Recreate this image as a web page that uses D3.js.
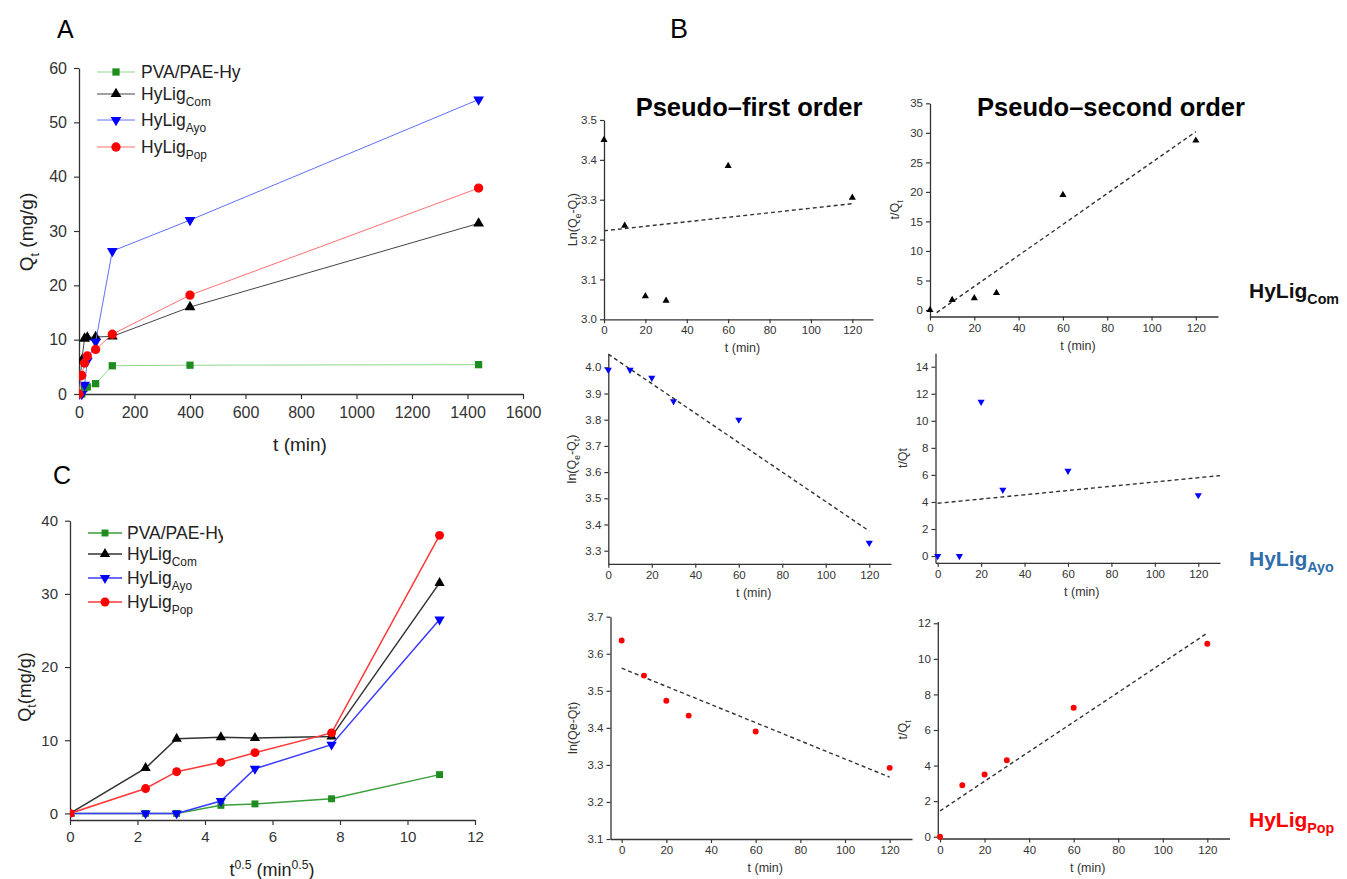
<!DOCTYPE html>
<html>
<head>
<meta charset="utf-8">
<script src="https://cdn.jsdelivr.net/npm/d3@7"></script>
<style>
  body { margin: 0; background: #fff; }
  text { font-family: "Liberation Sans", Arial, sans-serif; }
</style>
</head>
<body>
<div id="chart"></div>
<script>
// ---- data ----
const seriesKeys = ['pva', 'com', 'ayo', 'pop'];

// panel A: Qt vs t
const timeA = [0, 10, 20, 30, 60, 120, 400, 1440];
const pvaA = [0, 0, 1.1, 1.3, 1.9, 5.2, 5.3, 5.4];
const comA = [0, 6.2, 10.2, 10.4, 10.5, 10.6, 16.0, 31.4];
const ayoA = [0, 0, 1.7, 6.1, 9.6, 26.3, 32.0, 54.2];
const popA = [0, 3.4, 5.7, 7.0, 8.2, 11.0, 18.2, 37.9];

// panel C: Qt vs t^0.5
const sqrtT = [0, 2.24, 3.16, 4.47, 5.48, 7.75, 10.95];
const pvaC = [0, 0, 0, 1.1, 1.3, 2.0, 5.3];
const comC = [0, 6.2, 10.2, 10.4, 10.3, 10.5, 31.5];
const ayoC = [0, 0, 0, 1.7, 6.1, 9.4, 26.5];
const popC = [0, 3.4, 5.7, 7.0, 8.3, 11.0, 38.0];

// panel B: kinetic fits
const kinT = [0, 10, 20, 30, 60, 120];
const pfoCom = [3.45, 3.235, 3.058, 3.047, 3.385, 3.305];
const psoCom = [0, 1.7, 2.0, 2.9, 19.5, 28.7];
const pfoAyo = [3.99, 3.99, 3.96, 3.87, 3.80, 3.33];
const psoAyo = [0, 0, 11.4, 4.9, 6.3, 4.5];
const pfoPop = [3.636, 3.541, 3.473, 3.433, 3.39, 3.292];
const psoPop = [0, 2.9, 3.5, 4.3, 7.25, 10.85];
// fitted lines, [t, value] end points
const fitPfoCom = [[0, 3.222], [120, 3.29]];
const fitPsoCom = [[3, -0.45], [120, 30.2]];
const fitPfoAyo = [[0, 4.05], [120, 3.375]];
const fitPsoAyo = [[0, 3.9], [130, 5.95]];
const fitPfoPop = [[0, 3.561], [120, 3.267]];
const fitPsoPop = [[0, 1.45], [120, 11.45]];

const style = {
  pva: { main: 'PVA/PAE-Hy', sub: '', marker: '#1e8c1e', lineA: '#8fd88f', lineC: '#3a9e3a', sym: 'square' },
  com: { main: 'HyLig', sub: 'Com', marker: '#000', lineA: '#444', lineC: '#333', sym: 'up' },
  ayo: { main: 'HyLig', sub: 'Ayo', marker: '#0000ff', lineA: '#6070ff', lineC: '#3a3aff', sym: 'down' },
  pop: { main: 'HyLig', sub: 'Pop', marker: '#ff0000', lineA: '#ff7070', lineC: '#ff3a3a', sym: 'circle' }
};

const W = 1347, H = 879;
const svg = d3.select('#chart').append('svg')
  .attr('width', W).attr('height', H)
  .attr('viewBox', [0, 0, W, H]);

function symbolPath(kind, scale) {
  if (kind === 'square') return d3.symbol(d3.symbolSquare, 48 * scale)();
  if (kind === 'circle') return d3.symbol(d3.symbolCircle, 62 * scale)();
  return d3.symbol(d3.symbolTriangle, 46 * scale)();
}
function drawMarker(g, kind, cx, cy, color, scale) {
  g.append('path')
    .attr('d', symbolPath(kind, scale))
    .attr('transform', `translate(${cx},${cy})` + (kind === 'down' ? ' rotate(180)' : ''))
    .attr('fill', color);
}

// text with sub/superscript parts: [[str, 'sub'|'sup'|null], ...]
function rich(sel, parts, size) {
  let shift = 0;
  parts.forEach(([s, kind]) => {
    const t = sel.append('tspan').text(s);
    let target = 0;
    if (kind === 'sub') { target = size * 0.3; t.attr('font-size', size * 0.68); }
    if (kind === 'sup') { target = -size * 0.4; t.attr('font-size', size * 0.68); }
    if (target !== shift) t.attr('dy', target - shift);
    shift = target;
  });
  return sel;
}

function range(a, b, step) {
  const n = Math.round((b - a) / step);
  return d3.range(n + 1).map(i => +(a + i * step).toFixed(6));
}

function axes(g, x, y, o) {
  const col = '#333';
  const xa = g.append('g').attr('transform', `translate(0,${y.range()[0]})`);
  xa.call(d3.axisBottom(x).tickValues(o.xMinor).tickSize(o.minLen).tickFormat('').tickSizeOuter(0));
  xa.call(d3.axisBottom(x).tickValues(o.xMajor).tickSize(o.majLen).tickPadding(o.xPad)
    .tickFormat(o.xFmt || d3.format('d')).tickSizeOuter(0));
  const ya = g.append('g').attr('transform', `translate(${x.range()[0]},0)`);
  ya.call(d3.axisLeft(y).tickValues(o.yMinor).tickSize(o.minLen).tickFormat('').tickSizeOuter(0));
  ya.call(d3.axisLeft(y).tickValues(o.yMajor).tickSize(o.majLen).tickPadding(o.yPad)
    .tickFormat(o.yFmt || d3.format('d')).tickSizeOuter(0));
  [xa, ya].forEach(a => {
    a.selectAll('.domain').attr('stroke', col).attr('stroke-width', o.axisW);
    a.selectAll('line').attr('stroke', col).attr('stroke-width', o.axisW * 0.9);
    a.selectAll('text').attr('font-size', o.font).attr('fill', '#333')
      .attr('font-family', '"Liberation Sans", Arial, sans-serif');
  });
}

// ---------- Panels A and C ----------
function qtPanel(o) {
  const g = svg.append('g');
  const x = d3.scaleLinear().domain(o.xDom).range(o.xRange);
  const y = d3.scaleLinear().domain(o.yDom).range(o.yRange);
  axes(g, x, y, o);
  const clip = 'clip' + o.id;
  g.append('clipPath').attr('id', clip).append('rect')
    .attr('x', o.xRange[0]).attr('y', o.yRange[1] - 10)
    .attr('width', o.xRange[1] - o.xRange[0] + 10).attr('height', o.yRange[0] - o.yRange[1] + 20);
  const plot = g.append('g').attr('clip-path', `url(#${clip})`);
  o.series.forEach(([key, vals]) => {
    const st = style[key];
    const pts = o.xs.map((t, i) => [x(t), y(vals[i])]);
    plot.append('path').attr('d', d3.line()(pts))
      .attr('fill', 'none').attr('stroke', o.lineKey === 'A' ? st.lineA : st.lineC)
      .attr('stroke-width', o.lineW);
    pts.forEach(p => drawMarker(plot, st.sym, p[0], p[1], st.marker, o.mk));
  });
  // legend
  const lg = g.append('g');
  const lclip = 'lclip' + o.id;
  g.append('clipPath').attr('id', lclip).append('rect')
    .attr('x', 0).attr('y', 0).attr('width', o.legClip).attr('height', H);
  lg.attr('clip-path', `url(#${lclip})`);
  seriesKeys.forEach((key, i) => {
    const st = style[key];
    const ly = o.legY[i];
    lg.append('line').attr('x1', o.legX[0]).attr('x2', o.legX[1]).attr('y1', ly).attr('y2', ly)
      .attr('stroke', o.lineKey === 'A' ? st.lineA : st.lineC).attr('stroke-width', o.lineW);
    drawMarker(lg, st.sym, (o.legX[0] + o.legX[1]) / 2, ly, st.marker, o.mk);
    const t = lg.append('text').attr('x', o.legX[2]).attr('y', ly + o.legFont * 0.36)
      .attr('font-size', o.legFont).attr('fill', '#222');
    rich(t, [[st.main, null], [st.sub, st.sub ? 'sub' : null]], o.legFont);
  });
  return { g, x, y };
}

qtPanel({
  id: 'A', xDom: [0, 1600], xRange: [79, 523], yDom: [0, 60], yRange: [394, 68],
  xMajor: range(0, 1600, 200), xMinor: range(0, 1600, 100),
  yMajor: range(0, 60, 10), yMinor: range(0, 60, 5),
  majLen: 5, minLen: 3, xPad: 8, yPad: 7, font: 16, axisW: 1.3,
  xs: timeA, series: [['pva', pvaA], ['com', comA], ['ayo', ayoA], ['pop', popA]],
  lineKey: 'A', lineW: 1, mk: 1.1,
  legX: [97, 135, 141], legY: [72, 94, 120, 147], legFont: 17.5, legClip: W
});
svg.append('text').attr('x', 57).attr('y', 38).attr('font-size', 25).text('A');
svg.append('text').attr('x', 300).attr('y', 451).attr('text-anchor', 'middle')
  .attr('font-size', 19).attr('fill', '#222').text('t (min)');
rich(svg.append('text').attr('transform', 'translate(33,232) rotate(-90)')
  .attr('text-anchor', 'middle').attr('font-size', 19).attr('fill', '#222'),
  [['Q', null], ['t', 'sub'], [' (mg/g)', null]], 19);

qtPanel({
  id: 'C', xDom: [0, 12], xRange: [70, 475], yDom: [-0.9, 40], yRange: [820, 520.7],
  xMajor: range(0, 12, 2), xMinor: range(0, 12, 1),
  yMajor: range(0, 40, 10), yMinor: range(0, 40, 5),
  majLen: 5, minLen: 3, xPad: 6, yPad: 7, font: 15, axisW: 1.3,
  xs: sqrtT, series: [['pva', pvaC], ['com', comC], ['ayo', ayoC], ['pop', popC]],
  lineKey: 'C', lineW: 1.5, mk: 1,
  legX: [88, 122, 127], legY: [533, 554, 578, 602], legFont: 17.5, legClip: 223
});
svg.append('text').attr('x', 53).attr('y', 484).attr('font-size', 25).text('C');
rich(svg.append('text').attr('x', 272).attr('y', 876).attr('text-anchor', 'middle')
  .attr('font-size', 18).attr('fill', '#222'),
  [['t', null], ['0.5', 'sup'], [' (min', null], ['0.5', 'sup'], [')', null]], 18);
rich(svg.append('text').attr('transform', 'translate(31,687) rotate(-90)')
  .attr('text-anchor', 'middle').attr('font-size', 18).attr('fill', '#222'),
  [['Q', null], ['t', 'sub'], ['(mg/g)', null]], 18);

// ---------- Panel B ----------
function kinPanel(o) {
  const g = svg.append('g');
  const x = d3.scaleLinear().domain(o.xDom).range(o.xRange);
  const y = d3.scaleLinear().domain(o.yDom).range(o.yRange);
  axes(g, x, y, {
    xMajor: range(0, 120, 20), xMinor: range(0, 130, 10),
    yMajor: o.yMajor, yMinor: o.yMinor, yFmt: o.yFmt,
    majLen: 4, minLen: 2.5, xPad: 3, yPad: 3, font: 11.5, axisW: 1.3
  });
  const st = style[o.key];
  g.append('path').attr('d', d3.line()(o.fit.map(d => [x(d[0]), y(d[1])])))
    .attr('fill', 'none').attr('stroke', '#333').attr('stroke-width', 1.4)
    .attr('stroke-dasharray', '4,3');
  kinT.forEach((t, i) => drawMarker(g, st.sym, x(t), y(o.vals[i]), st.marker, o.key === 'pop' ? 0.45 : 0.48));
  const xc = (o.xRange[0] + o.xRange[1]) / 2 + 4;
  g.append('text').attr('x', xc).attr('y', o.yRange[0] + 33).attr('text-anchor', 'middle')
    .attr('font-size', 12.5).attr('fill', '#333').text('t (min)');
  rich(g.append('text')
    .attr('transform', `translate(${o.yLabX},${(o.yRange[0] + o.yRange[1]) / 2}) rotate(-90)`)
    .attr('text-anchor', 'middle').attr('font-size', 12.5).attr('fill', '#333'), o.yLab, 12.5);
}

const f1 = d3.format('.1f');
kinPanel({ key: 'com', vals: pfoCom, fit: fitPfoCom, xDom: [0, 130], xRange: [604, 873],
  yDom: [3.0, 3.5], yRange: [319.3, 120], yMajor: range(3.0, 3.5, 0.1), yMinor: range(3.0, 3.5, 0.05),
  yFmt: f1, yLabX: 577, yLab: [['Ln(Q', null], ['e', 'sub'], ['-Q', null], ['t', 'sub'], [')', null]] });
kinPanel({ key: 'com', vals: psoCom, fit: fitPsoCom, xDom: [0, 130], xRange: [930, 1218],
  yDom: [-1.1, 35], yRange: [316.5, 103.3], yMajor: range(0, 35, 5), yMinor: range(0, 35, 2.5),
  yLabX: 899, yLab: [['t/Q', null], ['t', 'sub']] });
kinPanel({ key: 'ayo', vals: pfoAyo, fit: fitPfoAyo, xDom: [0, 130], xRange: [608.3, 891],
  yDom: [3.25, 4.05], yRange: [563.8, 354.2], yMajor: range(3.3, 4.0, 0.1), yMinor: range(3.25, 4.05, 0.05),
  yFmt: f1, yLabX: 576, yLab: [['ln(Q', null], ['e', 'sub'], ['-Q', null], ['t', 'sub'], [')', null]] });
kinPanel({ key: 'ayo', vals: psoAyo, fit: fitPsoAyo, xDom: [-1, 130], xRange: [935.5, 1220],
  yDom: [-0.5, 15], yRange: [562.8, 353.2], yMajor: range(0, 14, 2), yMinor: range(0, 15, 1),
  yLabX: 907, yLab: [['t/Qt', null]] });
kinPanel({ key: 'pop', vals: pfoPop, fit: fitPfoPop, xDom: [-5, 130], xRange: [610.5, 912],
  yDom: [3.1, 3.7], yRange: [839, 616.7], yMajor: range(3.1, 3.7, 0.1), yMinor: range(3.1, 3.7, 0.05),
  yFmt: f1, yLabX: 577, yLab: [['ln(Qe-Qt)', null]] });
kinPanel({ key: 'pop', vals: psoPop, fit: fitPsoPop, xDom: [-1, 130], xRange: [937.8, 1229.6],
  yDom: [-0.1, 12.1], yRange: [838.5, 621.5], yMajor: range(0, 12, 2), yMinor: range(0, 12, 1),
  yLabX: 907, yLab: [['t/Q', null], ['t', 'sub']] });

svg.append('text').attr('x', 670).attr('y', 38).attr('font-size', 27).text('B');
svg.append('text').attr('x', 749).attr('y', 116).attr('text-anchor', 'middle')
  .attr('font-size', 25.5).attr('font-weight', 'bold').text('Pseudo\u2013first order');
svg.append('text').attr('x', 1111).attr('y', 116).attr('text-anchor', 'middle')
  .attr('font-size', 25.5).attr('font-weight', 'bold').text('Pseudo\u2013second order');

const tagColors = { com: '#111', ayo: '#2f6eaa', pop: '#ff0000' };
[['com', 298], ['ayo', 566], ['pop', 827]].forEach(([key, by]) => {
  const t = svg.append('text').attr('x', 1249).attr('y', by)
    .attr('font-family', '"Open Sans", "Noto Sans", sans-serif')
    .attr('font-weight', 'bold').attr('font-size', 21).attr('fill', tagColors[key]);
  rich(t, [['HyLig', null], [style[key].sub, 'sub']], 21);
});
</script>
</body>
</html>
